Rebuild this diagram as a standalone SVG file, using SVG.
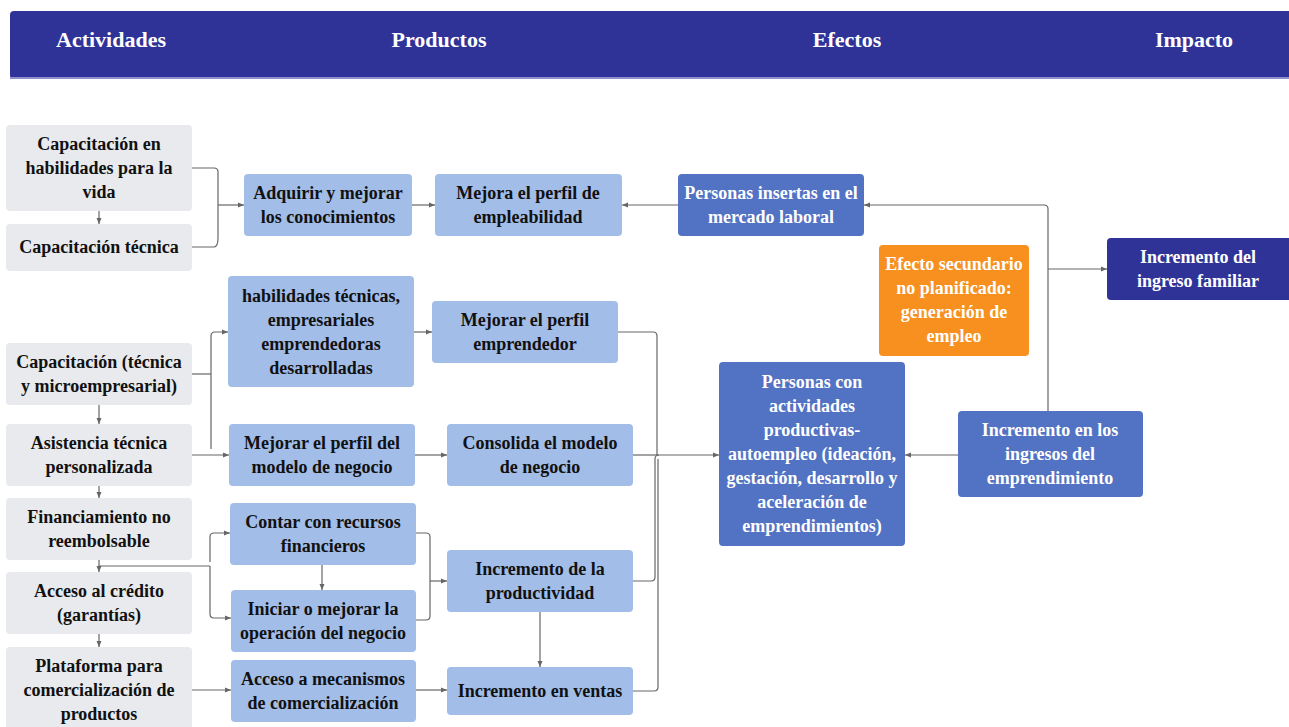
<svg xmlns="http://www.w3.org/2000/svg" width="1289" height="727" viewBox="0 0 1289 727">
<defs>
<style>
.t{font-family:"Liberation Serif","DejaVu Serif",serif;font-weight:bold;font-size:18px;text-anchor:middle;fill:#111}
.w{fill:#fff}
.h{font-family:"Liberation Serif","DejaVu Serif",serif;font-weight:bold;font-size:22px;fill:#fff;text-anchor:middle}
.g{fill:#E8EAED}
.b{fill:#A2BDE8}
.m{fill:#5272C3}
.o{fill:#F7901E}
.d{fill:#2F3398}
.c path{fill:none;stroke:#666;stroke-width:1.2}
.a{marker-end:url(#ar)}
</style>
<marker id="ar" viewBox="0 0 6 6" refX="6" refY="3" markerWidth="6" markerHeight="6" markerUnits="userSpaceOnUse" orient="auto">
<path d="M0,0.5 L6,3 L0,5.5 z" fill="#666"/>
</marker>
</defs>
<rect width="1289" height="727" fill="#fff"/>
<g id="header">
<rect x="10" y="11" width="1300" height="68" rx="4" class="d"/>
<rect x="10" y="77" width="1300" height="2" fill="#8E90D0"/>
<text class="h" x="111" y="47">Actividades</text>
<text class="h" x="439" y="47">Productos</text>
<text class="h" x="847" y="47">Efectos</text>
<text class="h" x="1194" y="47">Impacto</text>
</g>
<g class="c" id="connectors">
<path d="M192,168 H214 Q218,168 218,172 V238 Q218,247 214,247 H192"/>
<path class="a" d="M218,205 H244"/>
<path class="a" d="M99,211 V224"/>
<path class="a" d="M412,205 H435"/>
<path class="a" d="M678,205 H622"/>
<path d="M192,374 H211"/>
<path class="a" d="M211,336 Q211,332 215,332 H228"/>
<path d="M211,336 V449"/>
<path class="a" d="M192,455 H229"/>
<path class="a" d="M99,405 V424"/>
<path class="a" d="M99,486 V498"/>
<path class="a" d="M414,332 H432"/>
<path class="a" d="M415,455 H447"/>
<path d="M618,332 H653 Q657,332 657,336 V455"/>
<path d="M633,455 H658"/>
<path d="M633,581 H651 Q655,581 655,577 V459 Q655,455 659,455"/>
<path d="M633,691 H654 Q658,691 658,687 V459"/>
<path class="a" d="M658,455 H719"/>
<path class="a" d="M99,560 V572"/>
<path d="M99,566 H210"/>
<path class="a" d="M210,562 V537 Q210,533 214,533 H230"/>
<path class="a" d="M210,566 V614 Q210,618 214,618 H231"/>
<path class="a" d="M99,634 V647"/>
<path class="a" d="M192,690 H231"/>
<path class="a" d="M322,565 V590"/>
<path d="M416,533 H426 Q430,533 430,537 V616 Q430,620 426,620 H416"/>
<path class="a" d="M430,581 H447"/>
<path class="a" d="M540,612 V667"/>
<path class="a" d="M416,690 H447"/>
<path class="a" d="M958,455 H905"/>
<path d="M1048,411 V209 Q1048,205 1044,205 H870"/>
<path class="a" d="M870,205 H864"/>
<path class="a" d="M1048,269 H1107"/>
</g>
<g id="a1"><rect x="6" y="125" width="186" height="86" rx="4" class="g"/><text class="t" x="99" y="150">Capacitación en</text><text class="t" x="99" y="174">habilidades para la</text><text class="t" x="99" y="198">vida</text></g>
<g id="a2"><rect x="6" y="224" width="186" height="47" rx="4" class="g"/><text class="t" x="99" y="253">Capacitación técnica</text></g>
<g id="a3"><rect x="6" y="343" width="186" height="62" rx="4" class="g"/><text class="t" x="99" y="368">Capacitación (técnica</text><text class="t" x="99" y="392">y microempresarial)</text></g>
<g id="a4"><rect x="6" y="424" width="186" height="62" rx="4" class="g"/><text class="t" x="99" y="449">Asistencia técnica</text><text class="t" x="99" y="473">personalizada</text></g>
<g id="a5"><rect x="6" y="498" width="186" height="62" rx="4" class="g"/><text class="t" x="99" y="523">Financiamiento no</text><text class="t" x="99" y="547">reembolsable</text></g>
<g id="a6"><rect x="6" y="572" width="186" height="62" rx="4" class="g"/><text class="t" x="99" y="597">Acceso al crédito</text><text class="t" x="99" y="621">(garantías)</text></g>
<g id="a7"><rect x="6" y="647" width="186" height="90" rx="4" class="g"/><text class="t" x="99" y="672">Plataforma para</text><text class="t" x="99" y="696">comercialización de</text><text class="t" x="99" y="720">productos</text></g>
<g id="p1"><rect x="244" y="174" width="168" height="62" rx="4" class="b"/><text class="t" x="328" y="199">Adquirir y mejorar</text><text class="t" x="328" y="223">los conocimientos</text></g>
<g id="p2"><rect x="228" y="276" width="186" height="111" rx="4" class="b"/><text class="t" x="321" y="302">habilidades técnicas,</text><text class="t" x="321" y="326">empresariales</text><text class="t" x="321" y="350">emprendedoras</text><text class="t" x="321" y="374">desarrolladas</text></g>
<g id="p3"><rect x="229" y="424" width="186" height="62" rx="4" class="b"/><text class="t" x="322" y="449">Mejorar el perfil del</text><text class="t" x="322" y="473">modelo de negocio</text></g>
<g id="p4"><rect x="230" y="503" width="186" height="62" rx="4" class="b"/><text class="t" x="323" y="528">Contar con recursos</text><text class="t" x="323" y="552">financieros</text></g>
<g id="p5"><rect x="231" y="590" width="185" height="62" rx="4" class="b"/><text class="t" x="323" y="615">Iniciar o mejorar la</text><text class="t" x="323" y="639">operación del negocio</text></g>
<g id="p6"><rect x="231" y="660" width="185" height="62" rx="4" class="b"/><text class="t" x="323" y="685">Acceso a mecanismos</text><text class="t" x="323" y="709">de comercialización</text></g>
<g id="q1"><rect x="435" y="174" width="187" height="62" rx="4" class="b"/><text class="t" x="528" y="199">Mejora el perfil de</text><text class="t" x="528" y="223">empleabilidad</text></g>
<g id="q2"><rect x="432" y="301" width="186" height="62" rx="4" class="b"/><text class="t" x="525" y="326">Mejorar el perfil</text><text class="t" x="525" y="350">emprendedor</text></g>
<g id="q3"><rect x="447" y="424" width="186" height="62" rx="4" class="b"/><text class="t" x="540" y="449">Consolida el modelo</text><text class="t" x="540" y="473">de negocio</text></g>
<g id="q4"><rect x="447" y="550" width="186" height="62" rx="4" class="b"/><text class="t" x="540" y="575">Incremento de la</text><text class="t" x="540" y="599">productividad</text></g>
<g id="q5"><rect x="447" y="667" width="186" height="48" rx="4" class="b"/><text class="t" x="540" y="697">Incremento en ventas</text></g>
<g id="e1"><rect x="678" y="174" width="186" height="62" rx="4" class="m"/><text class="t w" x="771" y="199">Personas insertas en el</text><text class="t w" x="771" y="223">mercado laboral</text></g>
<g id="e2"><rect x="879" y="245" width="150" height="111" rx="4" class="o"/><text class="t w" x="954" y="270">Efecto secundario</text><text class="t w" x="954" y="294">no planificado:</text><text class="t w" x="954" y="318">generación de</text><text class="t w" x="954" y="342">empleo</text></g>
<g id="e3"><rect x="719" y="362" width="186" height="184" rx="4" class="m"/><text class="t w" x="812" y="388">Personas con</text><text class="t w" x="812" y="412">actividades</text><text class="t w" x="812" y="436">productivas-</text><text class="t w" x="812" y="460">autoempleo (ideación,</text><text class="t w" x="812" y="484">gestación, desarrollo y</text><text class="t w" x="812" y="508">aceleración de</text><text class="t w" x="812" y="532">emprendimientos)</text></g>
<g id="e4"><rect x="958" y="411" width="185" height="86" rx="4" class="m"/><text class="t w" x="1050" y="436">Incremento en los</text><text class="t w" x="1050" y="460">ingresos del</text><text class="t w" x="1050" y="484">emprendimiento</text></g>
<g id="i1"><rect x="1107" y="238" width="200" height="62" rx="4" class="d"/><text class="t w" x="1198" y="263">Incremento del</text><text class="t w" x="1198" y="287">ingreso familiar</text></g>
</svg>
